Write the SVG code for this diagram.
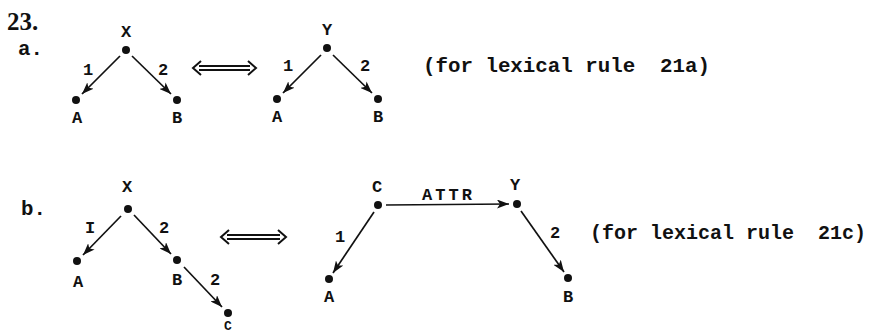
<svg xmlns="http://www.w3.org/2000/svg" width="875" height="335" viewBox="0 0 875 335">
<style>
.t{font-family:"Liberation Mono","DejaVu Sans Mono",monospace;font-weight:bold;fill:#111}
.lbl{font-size:17px;text-anchor:middle}
.main{font-size:20.8px;white-space:pre}
.num{font-family:"Liberation Serif","Times New Roman",serif;font-weight:bold;font-size:25px;fill:#111}
.e{stroke:#111;stroke-width:1.7;fill:none;marker-end:url(#ah)}
.dbl{stroke:#111;stroke-width:2;fill:none}
.dot{fill:#111}
</style>
<defs>
<marker id="ah" markerUnits="userSpaceOnUse" markerWidth="13" markerHeight="9" refX="12" refY="4.5" orient="auto">
<path d="M0,0 L12,4.5 L0,9 L3,4.5 Z" fill="#111"/>
</marker>
</defs>
<rect width="875" height="335" fill="#fff"/>
<text class="num" x="7" y="30">23.</text>
<text class="t main" x="18" y="55">a.</text>
<text class="t main" x="21" y="215">b.</text>

<g id="connectors">
<line class="e" x1="120" y1="56" x2="82" y2="94"/>
<line class="e" x1="132" y1="56" x2="171" y2="94"/>
<line class="e" x1="321" y1="55" x2="283" y2="93"/>
<line class="e" x1="333" y1="55" x2="372" y2="93"/>
<line class="e" x1="121" y1="216" x2="83" y2="255"/>
<line class="e" x1="134" y1="215" x2="171" y2="254"/>
<line class="e" x1="184" y1="267" x2="222" y2="307"/>
<line class="e" x1="386" y1="205" x2="509" y2="204"/>
<line class="e" x1="374" y1="212" x2="333" y2="273"/>
<line class="e" x1="521" y1="211" x2="564" y2="272"/>
<text class="t lbl" x="88" y="75">1</text>
<text class="t lbl" x="163" y="75">2</text>
<text class="t lbl" x="288" y="71">1</text>
<text class="t lbl" x="365" y="71">2</text>
<text class="t lbl" x="90" y="233">I</text>
<text class="t lbl" x="164" y="233">2</text>
<text class="t lbl" x="215" y="285">2</text>
<text class="t lbl" x="447" y="200" textLength="50">ATTR</text>
<text class="t lbl" x="340" y="242">1</text>
<text class="t lbl" x="555" y="238">2</text>
</g>

<g id="equiv-a">
<path class="dbl" d="M199,66 H250 M199,70 H250 M201,61 L193,68 L201,75 M248,61 L256,68 L248,75"/>
</g>
<g id="equiv-b">
<path class="dbl" d="M227,235 H280 M227,239 H280 M229,230 L221,237 L229,244 M278,230 L286,237 L278,244"/>
</g>

<g id="a-X"><circle class="dot" cx="126" cy="50" r="4"/><text class="t lbl" x="126" y="37">X</text></g>
<g id="a-A1"><circle class="dot" cx="76" cy="100" r="4"/><text class="t lbl" x="77" y="123">A</text></g>
<g id="a-B1"><circle class="dot" cx="177" cy="100" r="4"/><text class="t lbl" x="177" y="123">B</text></g>
<g id="a-Y"><circle class="dot" cx="327" cy="48" r="4"/><text class="t lbl" x="327" y="35">Y</text></g>
<g id="a-A2"><circle class="dot" cx="277" cy="99" r="4"/><text class="t lbl" x="277" y="122">A</text></g>
<g id="a-B2"><circle class="dot" cx="378" cy="99" r="4"/><text class="t lbl" x="378" y="122">B</text></g>
<text class="t main" x="423" y="72" xml:space="preserve">(for lexical rule  21a)</text>

<g id="b-X"><circle class="dot" cx="128" cy="209" r="4"/><text class="t lbl" x="127" y="192">X</text></g>
<g id="b-A1"><circle class="dot" cx="77" cy="261" r="4"/><text class="t lbl" x="78" y="287">A</text></g>
<g id="b-B1"><circle class="dot" cx="177" cy="260" r="4"/><text class="t lbl" x="177" y="285">B</text></g>
<g id="b-C1"><circle class="dot" cx="228" cy="313" r="4"/><text class="t lbl" x="228" y="330" style="font-size:13px">C</text></g>
<g id="b-C2"><circle class="dot" cx="378" cy="205" r="4"/><text class="t lbl" x="377" y="192">C</text></g>
<g id="b-Y"><circle class="dot" cx="517" cy="204" r="4"/><text class="t lbl" x="515" y="190">Y</text></g>
<g id="b-A2"><circle class="dot" cx="329" cy="279" r="4"/><text class="t lbl" x="329" y="302">A</text></g>
<g id="b-B2"><circle class="dot" cx="568" cy="278" r="4"/><text class="t lbl" x="568" y="302">B</text></g>
<text class="t main" x="590" y="239" xml:space="preserve" style="font-size:20px">(for lexical rule  21c)</text>
</svg>
